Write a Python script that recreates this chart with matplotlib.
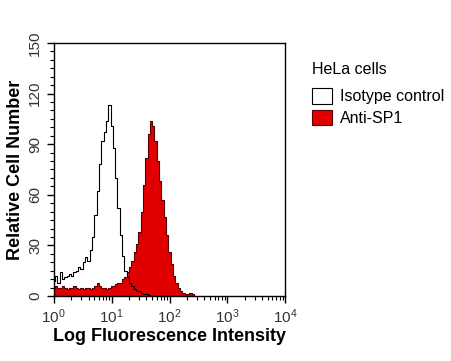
import numpy as np
import matplotlib.pyplot as plt
from matplotlib.patches import Patch
from matplotlib.ticker import LogLocator, MultipleLocator, FixedLocator

plt.rcParams['font.family'] = ['Liberation Sans', 'DejaVu Sans']

# log10 of fluorescence channel (bin centres)
log_channel = np.arange(0, 2.48, 0.04)

isotype = [9, 12, 8, 14, 10, 11, 12, 13, 12, 14,
           15, 17, 16, 20, 23, 21, 27, 35, 48, 62,
           78, 92, 97, 104, 113, 101, 88, 70, 52, 36,
           24, 15, 11, 8, 6, 4, 3, 3, 2, 1,
           1, 0.5, 0, 0, 0, 0, 0, 0, 0, 0,
           0, 0, 0, 0, 0, 0, 0, 0, 0, 0,
           0, 0]

anti_sp1 = [5, 6, 5, 5, 6, 5, 4, 5, 5, 6,
            5, 4, 5, 4, 5, 5, 4, 5, 6, 8,
            6, 5, 5, 4, 5, 6, 6, 7, 8, 8,
            10, 11, 14, 17, 21, 26, 31, 38, 50, 66,
            82, 96, 104, 101, 92, 80, 68, 57, 47, 36,
            26, 19, 12, 8, 5, 3, 2, 1, 1, 2,
            1, 0]

x = 10 ** log_channel

fig = plt.figure(figsize=(4.52, 3.61), dpi=100)
ax = fig.add_axes([0.119, 0.18, 0.512, 0.701])

red = '#e00000'
ax.fill_between(x, anti_sp1, step='mid', color=red, lw=0)
ax.step(x, anti_sp1, where='mid', color='#5a0000', lw=0.8)
ax.step(x, isotype, where='mid', color='black', lw=0.8)

ax.set_xscale('log')
ax.set_xlim(1, 1e4)
ax.set_ylim(0, 150)

ax.xaxis.set_major_locator(LogLocator(base=10, numticks=10))
ax.xaxis.set_minor_locator(LogLocator(base=10, subs=np.arange(2, 10), numticks=20))
ax.yaxis.set_major_locator(FixedLocator([0, 30, 60, 90, 120, 150]))
ax.yaxis.set_minor_locator(MultipleLocator(5))

ax.tick_params(axis='both', which='major', direction='out', length=5, width=1,
               labelsize=11, labelcolor='#333333')
ax.tick_params(axis='both', which='minor', direction='out', length=3, width=0.8)
for lab in ax.get_yticklabels():
    lab.set_rotation(90)
    lab.set_va('center')

for s in ax.spines.values():
    s.set_linewidth(1)

ax.set_xlabel('Log Fluorescence Intensity', fontsize=13, fontweight='bold', labelpad=1)
ax.set_ylabel('Relative Cell Number', fontsize=13, fontweight='bold', labelpad=3)

handles = [Patch(facecolor='white', edgecolor='black', lw=0.8),
           Patch(facecolor=red, edgecolor='#5a0000', lw=0.8)]
leg = fig.legend(handles, ['Isotype control', 'Anti-SP1'], title='HeLa cells',
                 loc='upper left', bbox_to_anchor=(0.69, 0.828), frameon=False,
                 fontsize=11.5, title_fontsize=11.5, alignment='left',
                 handlelength=1.25, handleheight=1.1, handletextpad=0.5,
                 labelspacing=0.35, borderaxespad=0, borderpad=0)
leg._legend_box.sep = 8

fig.savefig('out.png', dpi=100)
